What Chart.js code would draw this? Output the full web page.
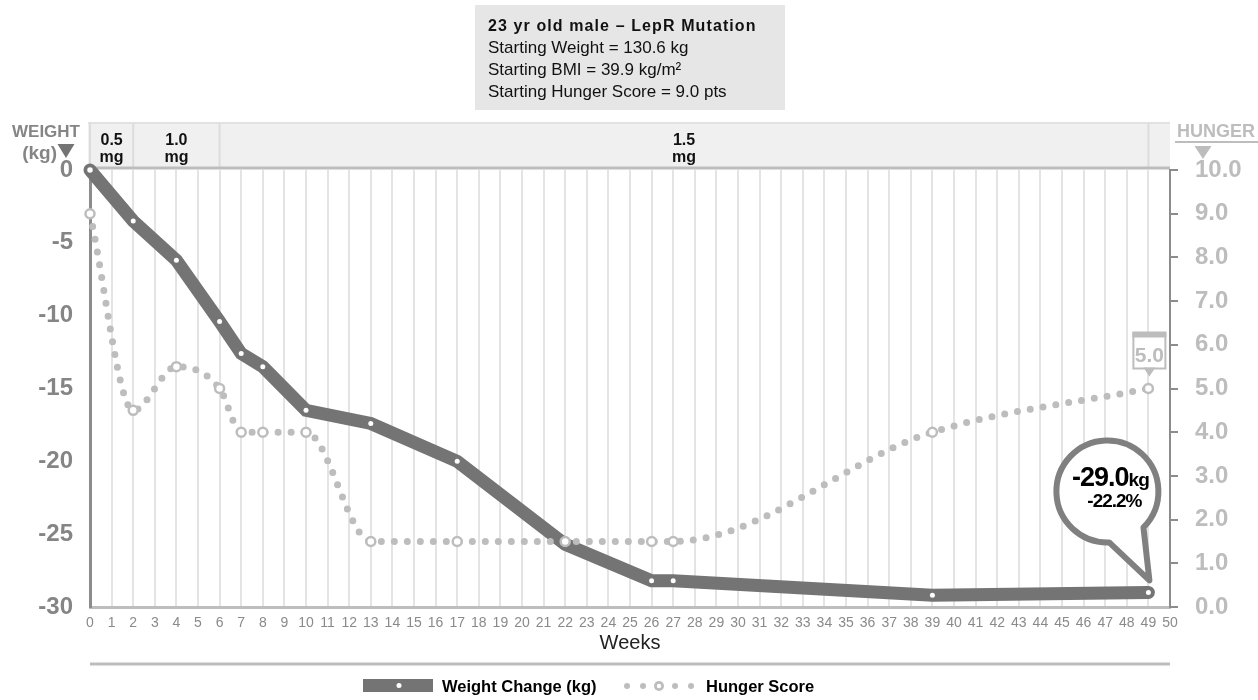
<!DOCTYPE html>
<html>
<head>
<meta charset="utf-8">
<script src="https://cdn.jsdelivr.net/npm/chart.js@4"></script>
<style>
  body { margin: 0; background: #fff; }
  #wrap { width: 1258px; height: 700px; position: relative; }
</style>
</head>
<body>
<div id="wrap"><canvas id="weightChart"></canvas></div>
<script>
// data
const weeks = [0, 2, 4, 6, 7, 8, 10, 13, 17, 22, 26, 27, 39, 49];
const weightChange = [0, -3.5, -6.2, -10.4, -12.6, -13.5, -16.5, -17.4, -20.0, -25.7, -28.2, -28.2, -29.2, -29.0];
const hungerScore = [9.0, 4.5, 5.5, 5.0, 4.0, 4.0, 4.0, 1.5, 1.5, 1.5, 1.5, 1.5, 4.0, 5.0];

const doseLabels = ["0.5", "1.0", "1.5"];
const doseStart = [0, 2, 6];
const doseEnd = [2, 6, 49];

const infoLines = [
  "23 yr old male \u2013 LepR Mutation",
  "Starting Weight = 130.6 kg",
  "Starting BMI = 39.9 kg/m\u00b2",
  "Starting Hunger Score = 9.0 pts",
];
const finalWeightLabel = "-29.0";
const finalPctLabel = "-22.2%";

const FONT = "'Liberation Sans', Arial, sans-serif";
const NARROW = "'Liberation Sans Narrow', 'Liberation Sans', Arial, sans-serif";
const DARK = "#747474";
const AXIS = "#8c8c8c";
const LIGHT = "#bdbdbd";

const xy = (xs, ys) => xs.map((x, i) => ({ x: x, y: ys[i] }));

function tri(ctx, cx, top, w, h, color) {
  ctx.fillStyle = color;
  ctx.beginPath();
  ctx.moveTo(cx - w / 2, top);
  ctx.lineTo(cx + w / 2, top);
  ctx.lineTo(cx, top + h);
  ctx.closePath();
  ctx.fill();
}

const extrasPlugin = {
  id: "extras",
  beforeDraw(chart) {
    const ctx = chart.ctx;
    const xs = chart.scales.x;
    const area = chart.chartArea;
    ctx.save();

    // info box
    ctx.fillStyle = "#e6e6e6";
    ctx.fillRect(475, 5, 310, 105);
    ctx.fillStyle = "#111";
    ctx.textBaseline = "alphabetic";
    ctx.textAlign = "left";
    ctx.font = "bold 16px " + FONT;
    ctx.letterSpacing = "1.1px";
    ctx.fillText(infoLines[0], 488, 31);
    ctx.letterSpacing = "0px";
    ctx.font = "17px " + FONT;
    ctx.fillText(infoLines[1], 488, 53);
    ctx.fillText(infoLines[2], 488, 75);
    ctx.fillText(infoLines[3], 488, 97);

    // dose band
    const bandTop = 123, bandBottom = area.top - 2;
    ctx.fillStyle = "#f0f0f0";
    ctx.fillRect(area.left - 2, bandTop, area.right - area.left + 2, bandBottom - bandTop);
    ctx.strokeStyle = "#e2e2e2";
    ctx.lineWidth = 2;
    ctx.beginPath();
    ctx.moveTo(area.left - 2, bandTop);
    ctx.lineTo(area.right, bandTop);
    ctx.stroke();
    ctx.strokeStyle = "#dcdcdc";
    const seps = [doseStart[0]].concat(doseEnd);
    seps.forEach(w => {
      const px = xs.getPixelForValue(w);
      ctx.beginPath();
      ctx.moveTo(px, bandTop);
      ctx.lineTo(px, bandBottom);
      ctx.stroke();
    });
    ctx.strokeStyle = LIGHT;
    ctx.lineWidth = 3;
    ctx.beginPath();
    ctx.moveTo(area.left - 2, bandBottom);
    ctx.lineTo(area.right, bandBottom);
    ctx.stroke();

    ctx.fillStyle = "#111";
    ctx.font = "bold 16px " + FONT;
    ctx.textAlign = "center";
    doseLabels.forEach((lab, i) => {
      const cx = (xs.getPixelForValue(doseStart[i]) + xs.getPixelForValue(doseEnd[i])) / 2;
      ctx.fillText(lab, cx, 145);
      ctx.fillText("mg", cx, 162);
    });

    // axis headers
    ctx.fillStyle = "#858585";
    ctx.font = "bold 17px " + FONT;
    ctx.textAlign = "right";
    ctx.fillText("WEIGHT", 80, 137);
    ctx.font = "bold 19px " + FONT;
    ctx.fillText("(kg)", 57, 159);
    tri(ctx, 66, 144, 17, 14, "#747474");

    ctx.fillStyle = LIGHT;
    ctx.textAlign = "left";
    ctx.font = "bold 18px " + FONT;
    ctx.fillText("HUNGER", 1177, 137);
    ctx.strokeStyle = LIGHT;
    ctx.lineWidth = 2;
    ctx.beginPath();
    ctx.moveTo(1175, 142);
    ctx.lineTo(1258, 142);
    ctx.stroke();
    tri(ctx, 1203, 146, 17, 13, LIGHT);

    ctx.restore();
  },
  afterDraw(chart) {
    const ctx = chart.ctx;
    const xs = chart.scales.x, ys = chart.scales.y, y1 = chart.scales.y1;
    const area = chart.chartArea;
    const last = weeks.length - 1;
    ctx.save();

    // hunger end label
    const hx = xs.getPixelForValue(weeks[last]);
    const hy = y1.getPixelForValue(hungerScore[last]);
    ctx.fillStyle = "#fff";
    ctx.fillRect(hx - 15, hy - 55, 32, 35);
    ctx.strokeStyle = LIGHT;
    ctx.lineWidth = 2;
    ctx.strokeRect(hx - 15, hy - 55, 32, 35);
    ctx.fillStyle = LIGHT;
    ctx.fillRect(hx - 16, hy - 57, 34, 6);
    tri(ctx, hx + 1, hy - 21, 12, 9, LIGHT);
    ctx.font = "bold 21px " + FONT;
    ctx.textAlign = "center";
    ctx.fillText(hungerScore[last].toFixed(1), hx + 1, hy - 27);

    // weight callout
    const px = xs.getPixelForValue(weeks[last]);
    const py = ys.getPixelForValue(weightChange[last]);
    const cx = px - 41, cy = py - 101, r = 51;
    const a1 = 88 * Math.PI / 180, a2 = (45 + 360) * Math.PI / 180;
    ctx.beginPath();
    ctx.arc(cx, cy, r, a1, a2, false);
    ctx.lineTo(px + 1, py - 12);
    ctx.closePath();
    ctx.fillStyle = "#fff";
    ctx.fill();
    ctx.strokeStyle = "#808080";
    ctx.lineWidth = 6;
    ctx.lineJoin = "round";
    ctx.stroke();

    ctx.fillStyle = "#000";
    ctx.letterSpacing = "-1px";
    ctx.font = "bold 27px " + FONT;
    const w1 = ctx.measureText(finalWeightLabel).width;
    ctx.font = "bold 19px " + FONT;
    const w2 = ctx.measureText("kg").width;
    const sx = cx + 3 - (w1 + w2) / 2;
    ctx.textAlign = "left";
    ctx.font = "bold 27px " + FONT;
    ctx.fillText(finalWeightLabel, sx, cy - 5);
    ctx.font = "bold 19px " + FONT;
    ctx.fillText("kg", sx + w1, cy - 5);
    ctx.textAlign = "center";
    ctx.fillText(finalPctLabel, cx + 7, cy + 16);
    ctx.letterSpacing = "0px";

    // legend
    ctx.strokeStyle = LIGHT;
    ctx.lineWidth = 3;
    ctx.beginPath();
    ctx.moveTo(area.left, 664);
    ctx.lineTo(area.right, 664);
    ctx.stroke();

    ctx.fillStyle = DARK;
    ctx.fillRect(363, 679, 70, 13);
    ctx.fillStyle = "#fff";
    ctx.beginPath();
    ctx.arc(399, 685.5, 2.5, 0, Math.PI * 2);
    ctx.fill();

    ctx.fillStyle = LIGHT;
    [627, 643, 675, 691].forEach(dx => {
      ctx.beginPath();
      ctx.arc(dx, 686, 3, 0, Math.PI * 2);
      ctx.fill();
    });
    ctx.beginPath();
    ctx.arc(659, 686, 5, 0, Math.PI * 2);
    ctx.fill();
    ctx.fillStyle = "#fff";
    ctx.beginPath();
    ctx.arc(659, 686, 2.2, 0, Math.PI * 2);
    ctx.fill();

    ctx.fillStyle = "#000";
    ctx.font = "bold 16.5px " + FONT;
    ctx.textAlign = "left";
    ctx.textBaseline = "middle";
    ctx.fillText("Weight Change (kg)", 442, 687);
    ctx.fillText("Hunger Score", 706, 687);

    ctx.restore();
  },
};

new Chart(document.getElementById("weightChart"), {
  type: "line",
  data: {
    datasets: [
      {
        label: "Hunger Score",
        data: xy(weeks, hungerScore),
        yAxisID: "y1",
        order: 0,
        clip: false,
        borderColor: LIGHT,
        borderWidth: 7,
        borderDash: [0, 13],
        borderCapStyle: "round",
        cubicInterpolationMode: "monotone",
        pointRadius: 4.5,
        pointBorderWidth: 2.5,
        pointBorderColor: LIGHT,
        pointBackgroundColor: "#fff",
      },
      {
        label: "Weight Change (kg)",
        data: xy(weeks, weightChange),
        yAxisID: "y",
        order: 1,
        clip: false,
        borderColor: DARK,
        borderWidth: 13,
        borderCapStyle: "round",
        tension: 0,
        pointRadius: (c) => (c.dataIndex === 0 ? 4 : 2.5),
        pointBorderWidth: (c) => (c.dataIndex === 0 ? 2.5 : 0),
        pointBorderColor: DARK,
        pointBackgroundColor: "#fff",
      },
    ],
  },
  options: {
    responsive: true,
    maintainAspectRatio: false,
    animation: false,
    events: [],
    layout: { padding: { top: 170, left: 0, right: 0, bottom: 0 } },
    plugins: {
      legend: { display: false },
      tooltip: { enabled: false },
    },
    scales: {
      x: {
        type: "linear",
        min: 0,
        max: 50,
        afterFit: (s) => { s.height = 93; },
        ticks: {
          stepSize: 1,
          autoSkip: false,
          maxRotation: 0,
          padding: 8,
          color: "#8a8a8a",
          font: { family: NARROW, size: 14 },
        },
        grid: { color: "#e4e4e4", lineWidth: 2, drawTicks: false },
        border: { color: LIGHT, width: 3 },
        title: {
          display: true,
          text: "Weeks",
          color: "#222",
          font: { family: FONT, size: 20 },
          padding: { top: 0, bottom: 45 },
        },
      },
      y: {
        position: "left",
        min: -30,
        max: 0,
        afterFit: (s) => { s.width = 90; },
        ticks: {
          stepSize: 5,
          padding: 17,
          color: "#858585",
          font: { family: FONT, size: 24, weight: "bold" },
        },
        grid: { display: false, drawTicks: false },
        border: { color: AXIS, width: 3 },
      },
      y1: {
        position: "right",
        min: 0,
        max: 10,
        afterFit: (s) => { s.width = 88; },
        ticks: {
          stepSize: 1,
          padding: 17,
          color: LIGHT,
          font: { family: FONT, size: 24, weight: "bold" },
          callback: (v) => v.toFixed(1),
        },
        grid: { drawOnChartArea: false, color: AXIS, lineWidth: 2, tickLength: 8 },
        border: { color: AXIS, width: 2 },
      },
    },
  },
  plugins: [extrasPlugin],
});
</script>
</body>
</html>
